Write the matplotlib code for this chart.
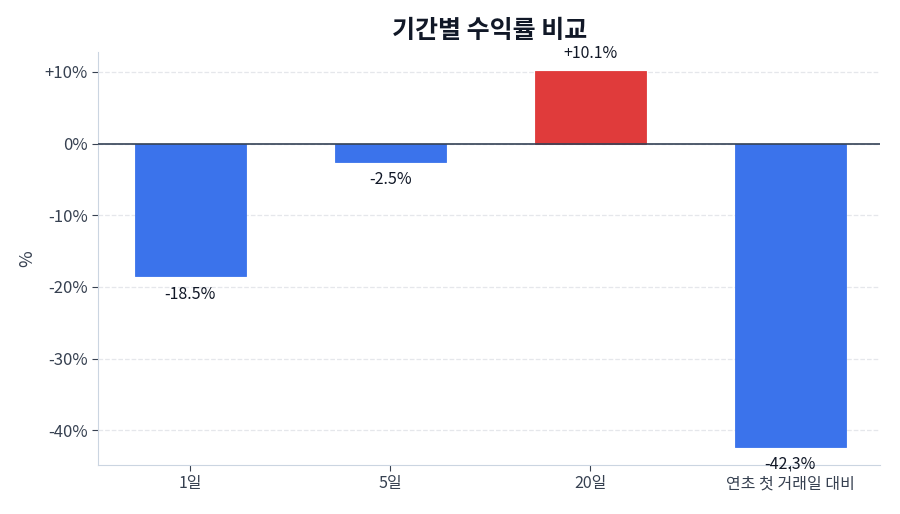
import matplotlib
matplotlib.use("Agg")
import matplotlib.pyplot as plt
from matplotlib.ticker import FuncFormatter

plt.rcParams['font.family'] = ['Noto Sans CJK KR', 'DejaVu Sans']

periods = ['1일', '5일', '20일', '연초 첫 거래일 대비']
returns = [-18.5, -2.5, 10.1, -42.3]

blue = '#3b73eb'
red = '#e03b3b'
colors = [red if v > 0 else blue for v in returns]

fig, ax = plt.subplots(figsize=(9, 5.14), dpi=100)
fig.subplots_adjust(left=0.109, right=0.978, top=0.899, bottom=0.096)

x = range(len(periods))
ax.bar(x, returns, width=0.555, color=colors, edgecolor=colors, linewidth=0.6, zorder=3)
ax.axhline(0, color='#334155', linewidth=1.2, zorder=4)

for i, v in enumerate(returns):
    label = f'+{v:.1f}%' if v > 0 else f'{v:.1f}%'
    if v > 0:
        ax.annotate(label, (i, v), xytext=(0, 7), textcoords='offset points',
                    ha='center', va='bottom', fontsize=11.5, color='#111827')
    else:
        ax.annotate(label, (i, v), xytext=(0, -7), textcoords='offset points',
                    ha='center', va='top', fontsize=11.5, color='#111827')

ax.set_xticks(list(x))
ax.set_xticklabels(periods)
ax.set_xlim(-0.46, 3.45)
ax.set_ylim(-44.8, 12.8)
ax.set_yticks([10, 0, -10, -20, -30, -40])
ax.yaxis.set_major_formatter(FuncFormatter(lambda v, p: f'+{v:.0f}%' if v > 0 else f'{v:.0f}%'))
ax.set_ylabel('%', fontsize=13, color='#374151', labelpad=6)
ax.set_title('기간별 수익률 비교', fontsize=18, fontweight='bold', color='#111827', pad=10)

ax.grid(axis='y', linestyle='--', color='#e5e7eb', linewidth=0.9, zorder=0)
for s in ['top', 'right']:
    ax.spines[s].set_visible(False)
for s in ['left', 'bottom']:
    ax.spines[s].set_color('#cbd5e1')
ax.tick_params(axis='y', labelsize=12, colors='#374151', length=4)
ax.tick_params(axis='x', labelsize=11.5, colors='#374151', length=4)
ax.tick_params(axis='both', color='#374151')

fig.savefig('out.png', dpi=100, facecolor='white')
